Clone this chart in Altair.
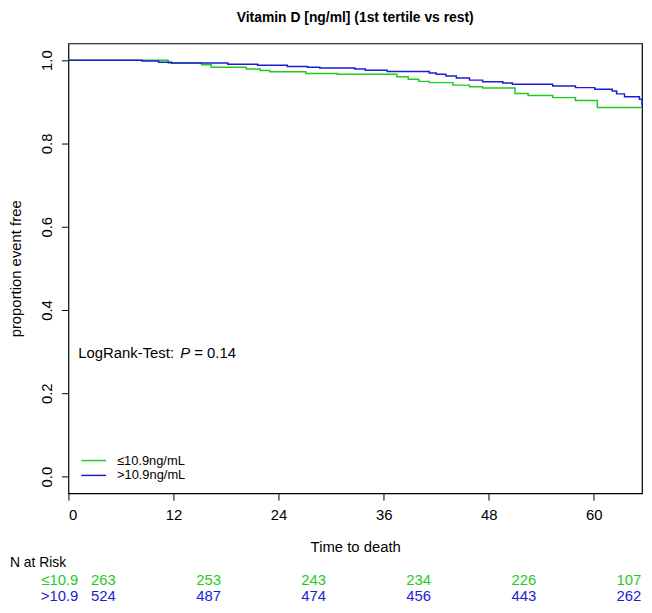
import altair as alt
import pandas as pd

# ---------------- data ----------------
chart_title = "Vitamin D [ng/ml] (1st tertile vs rest)"
groups = ["≤10.9ng/mL", ">10.9ng/mL"]
colors = ["#1fcb1f", "#1c1cd6"]

# Kaplan-Meier step curves (time in months, survival proportion)
low_t = [0, 11.4, 15.2, 16.3, 20.3, 21.9, 23.0, 27.1, 30.7, 37.5, 38.8, 40.0,
         41.2, 43.9, 45.8, 47.3, 51.0, 52.5, 55.3, 57.9, 60.4, 65.5]
low_s = [1.0, 0.993, 0.989, 0.983, 0.979, 0.975, 0.972, 0.968, 0.966, 0.960,
         0.954, 0.949, 0.946, 0.940, 0.936, 0.933, 0.920, 0.915, 0.910, 0.903,
         0.886, 0.886]

high_t = [0, 8.4, 10.3, 11.8, 18.2, 21.6, 25.0, 27.3, 28.7, 32.7, 33.9, 36.4,
          41.2, 42.0, 43.1, 44.3, 45.8, 47.3, 49.6, 50.7, 55.3, 57.9, 60.1,
          62.1, 62.6, 63.5, 65.2, 65.5]
high_s = [1.0, 0.998, 0.995, 0.993, 0.990, 0.988, 0.985, 0.983, 0.981, 0.979,
          0.976, 0.973, 0.969, 0.966, 0.962, 0.957, 0.952, 0.948, 0.945, 0.942,
          0.938, 0.934, 0.930, 0.926, 0.919, 0.912, 0.906, 0.891]

x_ticks = [0, 12, 24, 36, 48, 60]
y_ticks = [0.0, 0.2, 0.4, 0.6, 0.8, 1.0]

risk_times = [0, 12, 24, 36, 48, 60]
risk_low = [263, 253, 243, 234, 226, 107]
risk_high = [524, 487, 474, 456, 443, 262]
risk_row_labels = ["≤10.9", ">10.9"]
risk_header = "N at Risk"

annot_parts = ["LogRank-Test:", "P", "= 0.14"]

# ---------------- layout ----------------
W, H = 579, 454
FONT = "Liberation Sans"
FS = 15
risk_shift = 4.0  # months: numbers sit a little right of each tick

x_scale = alt.Scale(domain=[0, 65.5], nice=False, zero=False)
y_scale = alt.Scale(domain=[-0.04, 1.04], nice=False, zero=False)

df_low = pd.DataFrame({"t": low_t, "s": low_s, "group": groups[0]})
df_high = pd.DataFrame({"t": high_t, "s": high_s, "group": groups[1]})

x_axis = alt.Axis(values=x_ticks, title="Time to death", grid=False, domain=False,
                  tickSize=7, tickColor="black", labelFontSize=FS, labelColor="black",
                  labelPadding=8, labelFont=FONT, titleFont=FONT, titleFontSize=FS,
                  titleFontWeight="normal", titleColor="black",
                  titleY=54, titleX=W / 2, titleBaseline="middle")
y_axis = alt.Axis(values=y_ticks, format=".1f", title="proportion event free",
                  grid=False, domain=False, tickSize=7, tickColor="black",
                  labelFontSize=FS, labelColor="black", labelAngle=270,
                  labelAlign="center", labelBaseline="bottom", labelPadding=7,
                  labelFont=FONT, titleFont=FONT, titleFontSize=FS,
                  titleFontWeight="normal", titleColor="black", titleAngle=270,
                  titleX=-53, titleY=H / 2, titleAlign="center",
                  titleBaseline="middle")

def curve(df, color):
    return alt.Chart(df).mark_line(interpolate="step-after", strokeWidth=1.5,
                                   color=color).encode(
        x=alt.X("t:Q", scale=x_scale, axis=x_axis),
        y=alt.Y("s:Q", scale=y_scale, axis=y_axis),
    )

line_low = curve(df_low, colors[0])
line_high = curve(df_high, colors[1])

# N at risk table
risk_df = pd.DataFrame({
    "t": [t + risk_shift for t in risk_times] * 2,
    "n": [str(v) for v in risk_low] + [str(v) for v in risk_high],
    "row": [risk_row_labels[0]] * 6 + [risk_row_labels[1]] * 6,
})
row_y = {risk_row_labels[0]: H + 88, risk_row_labels[1]: H + 104}
row_layers = []
for i, lab in enumerate(risk_row_labels):
    sub = risk_df[risk_df["row"] == lab]
    row_layers.append(
        alt.Chart(sub).mark_text(fontSize=FS, font=FONT, color=colors[i],
                                 baseline="middle", align="center").encode(
            x=alt.X("t:Q", scale=x_scale, axis=x_axis),
            y=alt.value(row_y[lab]),
            text="n:N",
        )
    )
    row_layers.append(
        alt.Chart(pd.DataFrame({"lab": [lab]})).mark_text(
            fontSize=FS, font=FONT, color=colors[i], baseline="middle",
            align="right").encode(
            x=alt.value(10), y=alt.value(row_y[lab]), text="lab:N")
    )
header = alt.Chart(pd.DataFrame({"lab": [risk_header]})).mark_text(
    fontSize=14, font=FONT, color="black", baseline="middle", align="left").encode(
    x=alt.value(-59), y=alt.value(H + 70), text="lab:N")

# legend (manual, R style)
leg_df = pd.DataFrame({"lab": groups, "col": colors, "yy": [421, 436]})
leg_lines = alt.Chart(leg_df).mark_rule(strokeWidth=1.5).encode(
    x=alt.value(13), x2=alt.value(38), y=alt.Y("yy:Q", scale=None),
    color=alt.Color("col:N", scale=None))
leg_text = alt.Chart(leg_df).mark_text(fontSize=13, font=FONT, align="left",
                                       baseline="middle", color="black").encode(
    x=alt.value(49), y=alt.Y("yy:Q", scale=None), text="lab:N")

# annotation with italic P
ann_x = [10, 113, 127]
ann_style = ["normal", "italic", "normal"]
ann_layers = []
for part, xx, st in zip(annot_parts, ann_x, ann_style):
    ann_layers.append(
        alt.Chart(pd.DataFrame({"lab": [part]})).mark_text(
            fontSize=FS, font=FONT, align="left", baseline="middle",
            fontStyle=st, color="black").encode(
            x=alt.value(xx), y=alt.value(312), text="lab:N")
    )

chart = alt.layer(
    line_low, line_high, *row_layers, header, leg_lines, leg_text, *ann_layers
).properties(
    width=W, height=H,
    title=alt.TitleParams(chart_title, fontSize=14, fontWeight="bold", font=FONT,
                          anchor="middle", offset=19, color="black"),
    autosize=alt.AutoSizeParams(type="none"),
    padding={"left": 61, "top": 33, "right": 2, "bottom": 110},
    background="white",
).configure_view(stroke="black", strokeWidth=1.2)

chart.save("out.html", embed_options={"renderer": "svg", "actions": False})
